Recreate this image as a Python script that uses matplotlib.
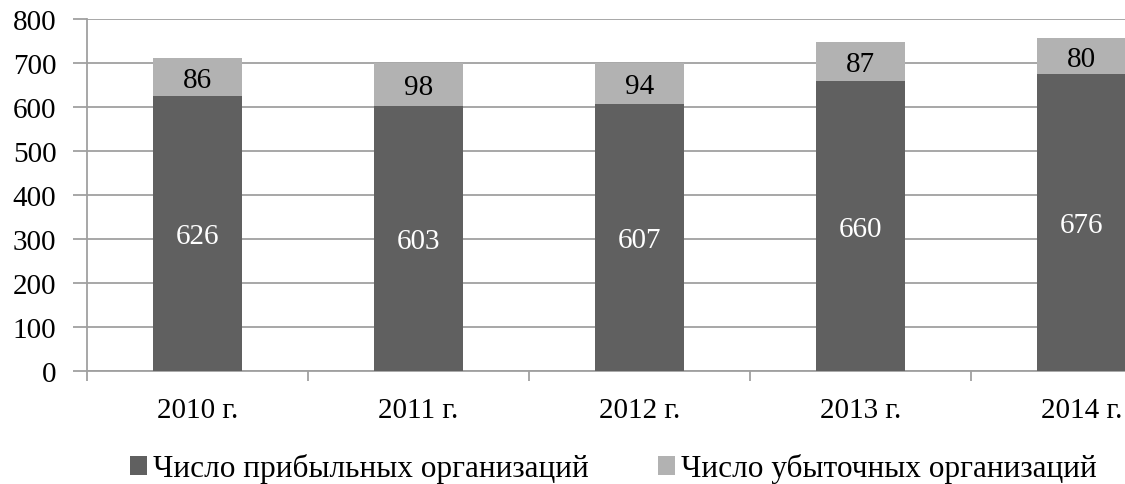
import matplotlib
matplotlib.use("Agg")
import matplotlib.pyplot as plt
from matplotlib.patches import Patch

categories = ["2010 г.", "2011 г.", "2012 г.", "2013 г.", "2014 г."]
profitable = [626, 603, 607, 660, 676]
unprofitable = [86, 98, 94, 87, 80]
series_names = ["Число прибыльных организаций", "Число убыточных организаций"]
yticks = [0, 100, 200, 300, 400, 500, 600, 700, 800]

dark = "#606060"
light = "#b2b2b2"
grid_c = "#a0a0a0"

plt.rcParams['font.family'] = ['Liberation Serif', 'DejaVu Serif']

fig = plt.figure(figsize=(11.25, 4.85), dpi=100)
W, H = 1125, 485
left, right, top, bottom = 87, 1192, 20, 372
ax = fig.add_axes([left / W, 1 - bottom / H, (right - left) / W, (bottom - top) / H])

x = list(range(len(categories)))
bw = 0.4
ax.bar(x, profitable, width=bw, color=dark, zorder=3)
ax.bar(x, unprofitable, width=bw, bottom=profitable, color=light, zorder=3)

for i in x:
    ax.text(i, profitable[i] / 2, str(profitable[i]), ha="center", va="center_baseline",
            color="white", fontsize=21, zorder=4)
    ax.text(i, profitable[i] + unprofitable[i] / 2, str(unprofitable[i]), ha="center",
            va="center_baseline", color="black", fontsize=21, zorder=4)

ax.set_xlim(-0.5, len(categories) - 0.5)
ax.set_ylim(0, 800)
ax.set_yticks(yticks)
ax.set_yticklabels([str(v) for v in yticks], fontsize=21)
ax.yaxis.grid(True, color=grid_c, linewidth=1.3, zorder=0)

ax.set_xticks([i - 0.5 for i in range(len(categories) + 1)])
ax.set_xticklabels([])
ax.set_xticks(x, minor=True)
ax.set_xticklabels(categories, minor=True, fontsize=21)
ax.tick_params(axis="x", which="major", length=7, color=grid_c, width=1.3)
ax.tick_params(axis="x", which="minor", length=0, pad=19)
ax.tick_params(axis="y", length=10, color=grid_c, width=1.3, pad=12)

for s in ["top", "right"]:
    ax.spines[s].set_visible(False)
for s in ["left", "bottom"]:
    ax.spines[s].set_color(grid_c)
    ax.spines[s].set_linewidth(1.3)

handles = [Patch(facecolor=dark), Patch(facecolor=light)]
fig.legend(handles, series_names, loc="center", bbox_to_anchor=(0.545, 0.032),
           ncol=2, frameon=False, fontsize=22.5, handlelength=0.55, handleheight=0.55,
           handletextpad=0.2, columnspacing=2.2)

fig.savefig("out.png", dpi=100)
